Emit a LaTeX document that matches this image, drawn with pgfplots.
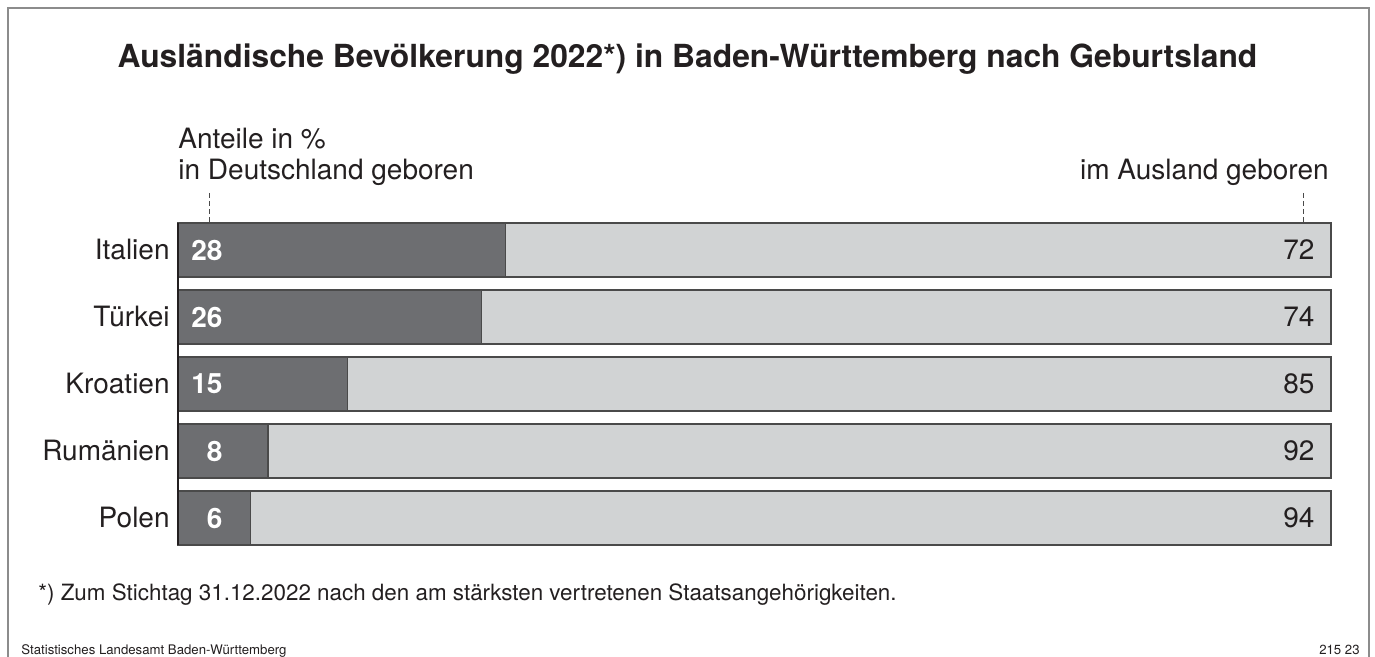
\documentclass[border=0pt]{standalone}
\usepackage{fontspec}
\setmainfont{TeX Gyre Heros}
\usepackage{pgfplots}
\usepackage{pgfplotstable}
\pgfplotsset{compat=1.18}
\definecolor{darkbar}{HTML}{6D6E71}
\definecolor{lightbar}{HTML}{D1D3D4}
\definecolor{txt}{HTML}{231F20}
\definecolor{outl}{HTML}{4A4A4A}
\definecolor{framec}{HTML}{8C8C8C}
\pgfplotstableread{
y  de   aus  lde  laus
0  6.3  93.7 6    94
1  7.8  92.2 8    92
2  14.7 85.3 15   85
3  26.3 73.7 26   74
4  28.4 71.6 28   72
}\datatab
\pgfplotsset{base/.style={
  at={(89pt,-272.5pt)}, anchor=south west,
  scale only axis, width=576.5pt, height=161pt,
  xmin=0, xmax=100, ymin=-0.403, ymax=4.403,
  clip=false}}
\begin{document}
\begin{tikzpicture}[x=0.5pt,y=-0.5pt]
\path[use as bounding box] (0,0) rectangle (1375,657);
\draw[framec, line width=0.8pt] (8,670) -- (8,8) -- (1369,8) -- (1369,670);
\node[anchor=base, inner sep=0pt, text=txt, font=\bfseries\fontsize{15.9}{18}\selectfont] at (687.5,68) {Ausländische Bevölkerung 2022*) in Baden-Württemberg nach Geburtsland};
\node[anchor=base west, inner sep=0pt, text=txt, font=\fontsize{14}{17}\selectfont] at (178,149) {Anteile in \%};
\node[anchor=base west, inner sep=0pt, text=txt, font=\fontsize{14}{17}\selectfont] at (178,180) {in Deutschland geboren};
\node[anchor=base east, inner sep=0pt, text=txt, font=\fontsize{14}{17}\selectfont] at (1329,180) {im Ausland geboren};
\draw[outl, line width=0.5pt, dash pattern=on 2.5pt off 1.5pt] (209,193) -- (209,222);
\draw[outl, line width=0.5pt, dash pattern=on 2.5pt off 1.5pt] (1303,193) -- (1303,222);
\node[anchor=base west, inner sep=0pt, text=txt, font=\fontsize{11.2}{13}\selectfont] at (38,600) {*) Zum Stichtag 31.12.2022 nach den am stärksten vertretenen Staatsangehörigkeiten.};
\node[anchor=base west, inner sep=0pt, text=txt, font=\fontsize{6.6}{8}\selectfont] at (21,654) {Statistisches Landesamt Baden-Württemberg};
\node[anchor=base east, inner sep=0pt, text=txt, font=\fontsize{6.6}{8}\selectfont] at (1360,654) {215 23};
\begin{axis}[base,
  xbar stacked, bar width=27pt,
  axis line style={draw=none},
  xtick=\empty,
  ytick={0,1,2,3,4},
  yticklabels={Polen,Rumänien,Kroatien,Türkei,Italien},
  major tick length=0pt,
  yticklabel style={font=\fontsize{14}{17}\selectfont, text=txt, inner sep=0pt, xshift=-4pt},
]
\addplot[fill=darkbar, draw=outl, line width=0.6pt] table[x=de, y=y] {\datatab};
\addplot[fill=lightbar, draw=outl, line width=0.6pt] table[x=aus, y=y] {\datatab};
\end{axis}
\begin{axis}[base, hide axis]
\draw[txt, line width=0.9pt] (rel axis cs:0,0) -- (rel axis cs:0,1);
\addplot[only marks, mark=none, nodes near coords, point meta=explicit symbolic,
  nodes near coords style={anchor=east, inner sep=0pt, text=white, font=\bfseries\fontsize{14}{17}\selectfont}]
  table[x expr=3.9, y=y, meta=lde] {\datatab};
\addplot[only marks, mark=none, nodes near coords, point meta=explicit symbolic,
  nodes near coords style={anchor=east, inner sep=0pt, text=txt, font=\fontsize{14}{17}\selectfont}]
  table[x expr=98.6, y=y, meta=laus] {\datatab};
\end{axis}
\end{tikzpicture}
\end{document}
